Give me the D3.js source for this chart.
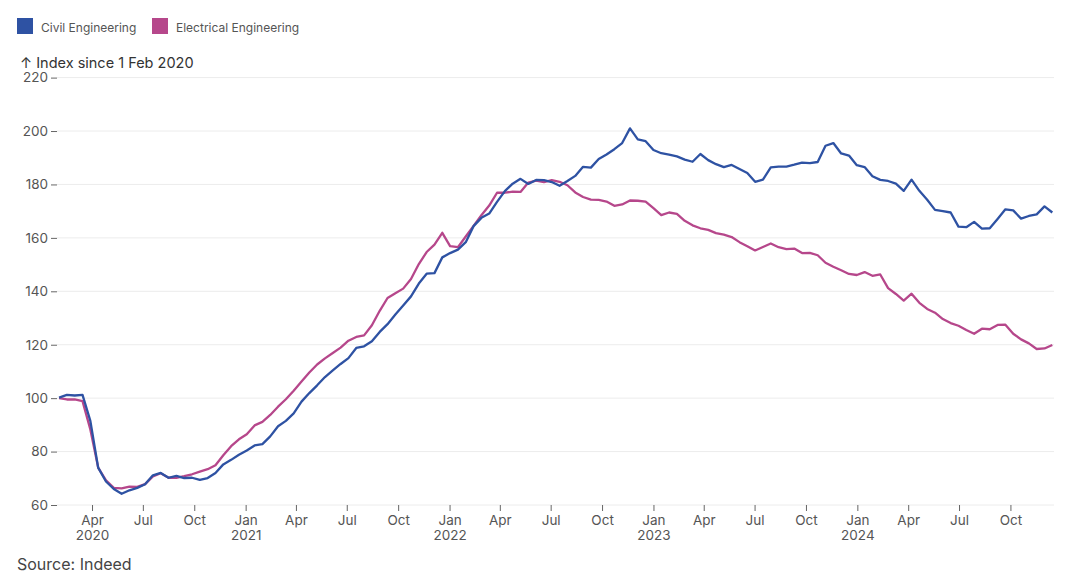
<!DOCTYPE html>
<html>
<head>
<meta charset="utf-8">
<script src="https://cdn.jsdelivr.net/npm/d3@7"></script>
<style>
  html, body { margin: 0; padding: 0; background: #fff; }
  svg { display: block; font-family: "Inter", "Roboto", sans-serif; }
</style>
</head>
<body>
<svg id="chart" width="1080" height="581"></svg>
<script>
// ---- data ----
const seriesNames = ["Civil Engineering", "Electrical Engineering"];
const seriesColors = ["#2e52a3", "#b6478b"];
const startDate = "2020-02-02";   // first observation, one every 14 days
const stepDays = 14;
const yTicks = [60, 80, 100, 120, 140, 160, 180, 200, 220];
const monthNames = ["Jan","Feb","Mar","Apr","May","Jun","Jul","Aug","Sep","Oct","Nov","Dec"];

const civil = [
  100.2,101.2,101.0,101.2,91.5,74.0,68.8,66.0,64.2,65.5,
  66.4,67.8,71.1,72.0,70.2,70.9,70.1,70.2,69.4,70.1,
  72.0,75.2,76.9,78.8,80.4,82.3,82.8,85.7,89.5,91.5,
  94.3,98.7,101.9,104.8,107.9,110.4,112.8,115.0,118.8,119.4,
  121.3,124.8,127.7,131.3,134.7,138.1,142.9,146.6,146.8,152.7,
  154.3,155.6,158.4,164.4,167.5,169.1,173.5,177.5,180.3,182.1,
  180.2,181.7,181.6,180.9,179.5,181.3,183.2,186.6,186.3,189.5,
  191.2,193.2,195.5,201.0,196.9,196.2,192.9,191.7,191.2,190.5,
  189.3,188.5,191.4,189.1,187.6,186.5,187.3,185.8,184.3,181.0,
  181.8,186.4,186.7,186.7,187.4,188.2,188.0,188.4,194.5,195.5,
  191.6,190.8,187.2,186.5,183.1,181.7,181.3,180.3,177.6,181.8,
  177.6,174.3,170.5,170.0,169.5,164.2,164.0,166.0,163.5,163.6,
  167.1,170.7,170.3,167.2,168.2,168.8,171.8,169.5
];
const electrical = [
  100.0,99.5,99.5,98.9,88.3,74.0,69.2,66.4,66.2,66.9,
  66.8,67.8,70.7,71.9,70.2,70.2,70.8,71.5,72.5,73.4,
  74.9,78.6,82.0,84.6,86.5,89.8,91.1,93.7,96.8,99.6,
  102.8,106.2,109.6,112.6,114.9,116.9,118.9,121.5,122.9,123.5,
  127.3,132.7,137.5,139.3,141.0,144.6,150.2,154.7,157.5,161.9,
  156.9,156.5,160.5,164.5,168.5,172.1,176.9,176.9,177.3,177.2,
  180.7,181.4,180.9,181.6,181.0,179.7,177.0,175.3,174.3,174.2,
  173.6,172.0,172.5,174.0,173.9,173.6,171.1,168.5,169.5,169.0,
  166.4,164.7,163.6,163.0,161.8,161.2,160.3,158.4,156.9,155.3,
  156.6,157.9,156.5,155.8,156.0,154.3,154.4,153.5,150.7,149.2,
  147.9,146.5,146.1,147.2,145.8,146.3,141.2,139.0,136.5,139.1,
  135.7,133.4,132.0,129.6,128.1,127.1,125.5,124.1,126.0,125.8,
  127.4,127.5,124.1,122.0,120.5,118.4,118.6,119.9
];

// ---- build ----
const parse = d3.timeParse("%Y-%m-%d");
const t0 = parse(startDate);
const dates = civil.map((_, i) => d3.timeDay.offset(t0, i * stepDays));
const seriesValues = [civil, electrical];

const svg = d3.select("#chart");
const plotLeft = 57, plotRight = 1054;

const x = d3.scaleTime()
  .domain([parse("2020-02-01"), parse("2024-12-18")])
  .range([58.5, 1054]);
const y = d3.scaleLinear().domain([60, 220]).range([505, 77.6]);

// gridlines
svg.append("g").selectAll("line").data(yTicks).join("line")
  .attr("x1", plotLeft).attr("x2", plotRight)
  .attr("y1", d => y(d)).attr("y2", d => y(d))
  .attr("stroke", "#ececec").attr("stroke-width", 1);

// y axis
const yAxis = d3.axisLeft(y).tickValues(yTicks).tickSize(6).tickPadding(3);
const gy = svg.append("g").attr("transform", `translate(${plotLeft},0)`).call(yAxis);
gy.select(".domain").remove();
gy.selectAll(".tick line").attr("stroke", "#666");
gy.selectAll(".tick text").attr("fill", "#555").style("font-size", "13.5px")
  .style("font-family", "Inter, Roboto, sans-serif");

// x axis
const xTickVals = d3.timeMonth.every(3).range(parse("2020-03-15"), parse("2024-12-18"));
const xAxis = d3.axisBottom(x).tickValues(xTickVals).tickSize(6).tickPadding(4)
  .tickFormat(d => monthNames[d.getMonth()]);
const gx = svg.append("g").attr("transform", `translate(0,${y(60)})`).call(xAxis);
gx.select(".domain").remove();
gx.selectAll(".tick line").attr("stroke", "#666");
gx.selectAll(".tick text").attr("fill", "#555").style("font-size", "13.5px")
  .style("font-family", "Inter, Roboto, sans-serif")
  .each(function(d, i) {
    if (i === 0 || d.getMonth() === 0) {
      d3.select(this).append("tspan").attr("x", 0).attr("dy", "1.15em")
        .text(d.getFullYear());
    }
  });

// lines
const line = d3.line().x((d, i) => x(dates[i])).y(d => y(d)).curve(d3.curveLinear);
[1, 0].forEach(s => {
  svg.append("path").datum(seriesValues[s])
    .attr("fill", "none").attr("stroke", seriesColors[s])
    .attr("stroke-width", 2.3).attr("stroke-linejoin", "round")
    .attr("d", line);
});

// legend
const legendX = [17, 152];
seriesNames.forEach((n, i) => {
  svg.append("rect").attr("x", legendX[i]).attr("y", 18).attr("width", 16).attr("height", 16)
    .attr("fill", seriesColors[i]);
  svg.append("text").attr("x", legendX[i] + 24).attr("y", 31.5)
    .attr("fill", "#555").style("font-size", "12px").text(n);
});

// axis title
svg.append("text").attr("x", 20).attr("y", 68)
  .attr("fill", "#333").style("font-size", "14.5px").text("↑ Index since 1 Feb 2020");

// source
svg.append("text").attr("x", 17).attr("y", 570)
  .attr("fill", "#444").style("font-size", "16px").text("Source: Indeed");
</script>
</body>
</html>
